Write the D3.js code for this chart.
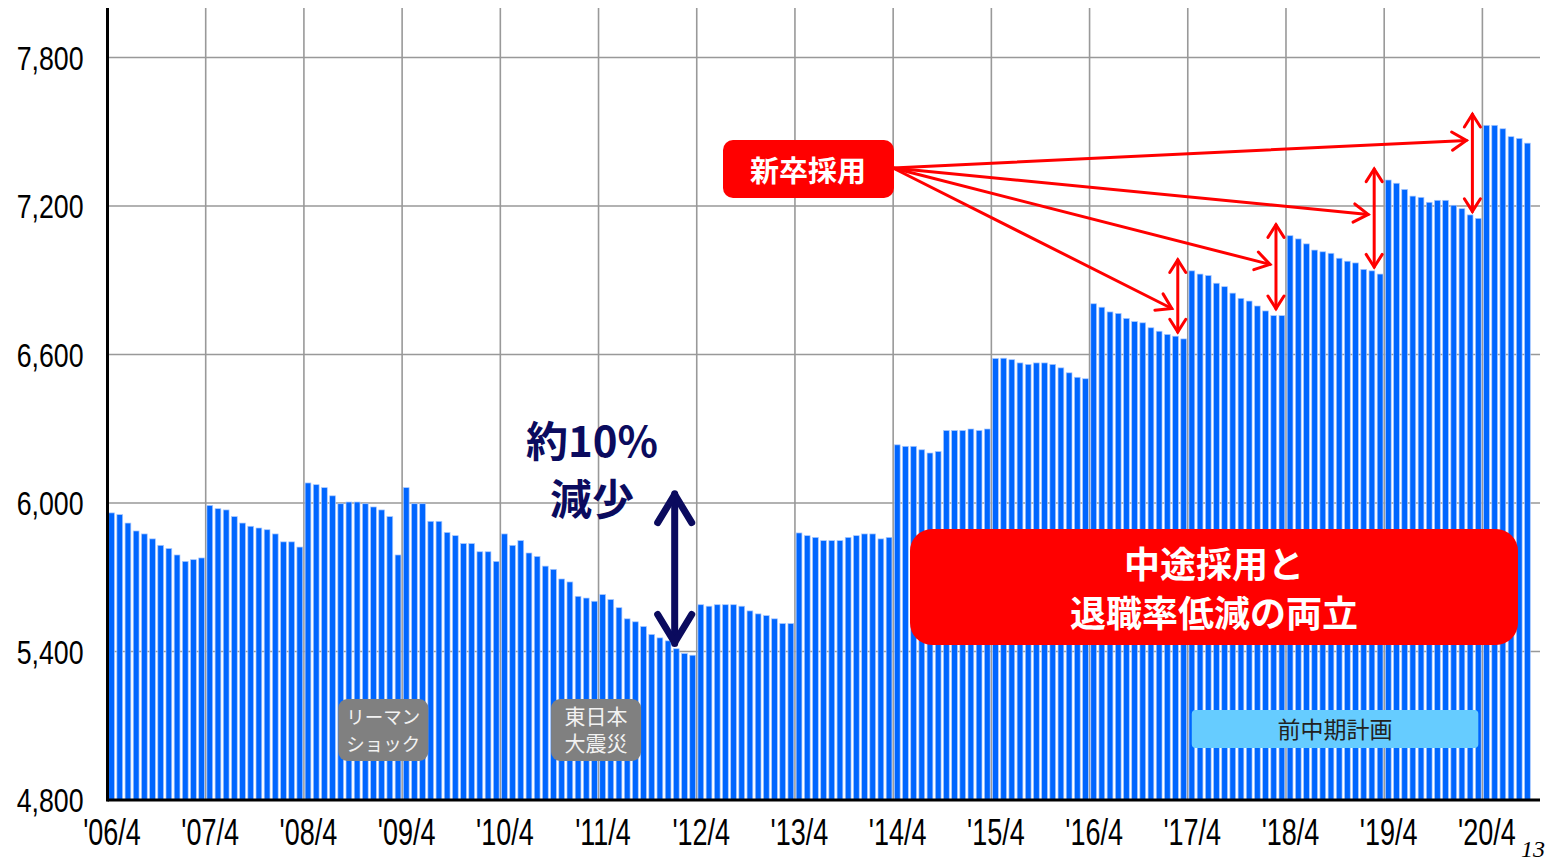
<!DOCTYPE html>
<html lang="ja">
<head>
<meta charset="UTF-8">
<title>社員数推移</title>
<script src="https://d3js.org/d3.v7.min.js"></script>
<style>
  body { margin: 0; background: #fff; }
  .grid line { stroke: #999; stroke-width: 1.6; }
  .bar { fill: #0066ff; stroke: #a9c9ff; stroke-width: 0.7; }
  .axis text { font-family: "Liberation Sans", Arial, sans-serif; fill: #000; }
  .axis path, .axis line { display: none; }
  .jp { font-family: "Noto Sans CJK JP", sans-serif; }
</style>
</head>
<body>
<svg id="chart" width="1547" height="861"></svg>
<script>
// monthly headcount, one array per fiscal year (April .. March)
var fy2006 = [5960, 5953, 5919, 5887, 5875, 5855, 5829, 5816, 5790, 5764, 5771, 5778];
var fy2007 = [5990, 5977, 5972, 5945, 5919, 5906, 5899, 5892, 5875, 5843, 5843, 5822];
var fy2008 = [6081, 6074, 6062, 6029, 5997, 6004, 6004, 5997, 5984, 5972, 5945, 5790];
var fy2009 = [6062, 5997, 5997, 5926, 5926, 5881, 5868, 5836, 5836, 5803, 5803, 5764];
var fy2010 = [5875, 5829, 5848, 5798, 5784, 5745, 5732, 5693, 5681, 5623, 5616, 5603];
var fy2011 = [5630, 5610, 5577, 5532, 5520, 5501, 5469, 5455, 5443, 5411, 5392, 5385];
var fy2012 = [5589, 5583, 5589, 5589, 5589, 5583, 5564, 5552, 5545, 5532, 5513, 5513];
var fy2013 = [5879, 5868, 5861, 5848, 5848, 5848, 5861, 5868, 5875, 5875, 5855, 5861];
var fy2014 = [6235, 6229, 6229, 6215, 6202, 6208, 6293, 6293, 6293, 6299, 6293, 6299];
var fy2015 = [6584, 6585, 6579, 6566, 6560, 6566, 6566, 6560, 6546, 6526, 6508, 6502];
var fy2016 = [6805, 6791, 6772, 6766, 6746, 6733, 6728, 6708, 6694, 6681, 6674, 6663];
var fy2017 = [6938, 6925, 6919, 6888, 6874, 6848, 6827, 6816, 6796, 6776, 6757, 6757];
var fy2018 = [7080, 7067, 7047, 7022, 7015, 7009, 6989, 6977, 6970, 6944, 6938, 6925];
var fy2019 = [7305, 7292, 7267, 7240, 7235, 7215, 7223, 7223, 7203, 7189, 7164, 7150];
var fy2020 = [7526, 7526, 7512, 7480, 7473, 7454];

var xTickLabels = ["'06/4", "'07/4", "'08/4", "'09/4", "'10/4", "'11/4", "'12/4",
                   "'13/4", "'14/4", "'15/4", "'16/4", "'17/4", "'18/4", "'19/4", "'20/4"];
var yTicks = [4800, 5400, 6000, 6600, 7200, 7800];

// April indexes where new graduates join (red double arrows) and where the lines point
var hireMonths = [132, 144, 156, 168];
var hireTargets = [6786, 6964, 7166, 7465];

var values = [].concat(fy2006, fy2007, fy2008, fy2009, fy2010, fy2011, fy2012, fy2013,
                       fy2014, fy2015, fy2016, fy2017, fy2018, fy2019, fy2020);

var svg = d3.select("#chart");
var plotL = 107.5, plotR = 1540, plotT = 8, plotB = 800;

var x = d3.scaleLinear().domain([0, values.length]).range([plotL, 1531.5]);
var y = d3.scaleLinear().domain([4800, 8000]).range([plotB, plotT]);
var step = x(1) - x(0);

svg.append("rect").attr("width", 1547).attr("height", 861).attr("fill", "#fff");

// grid
var grid = svg.append("g").attr("class", "grid");
grid.selectAll(".h").data(yTicks.slice(1)).enter().append("line")
    .attr("x1", plotL).attr("x2", plotR)
    .attr("y1", function(d) { return y(d); }).attr("y2", function(d) { return y(d); });
grid.selectAll(".v").data(d3.range(12, values.length, 12)).enter().append("line")
    .attr("x1", function(d) { return x(d); }).attr("x2", function(d) { return x(d); })
    .attr("y1", plotT).attr("y2", plotB);

// bars
svg.selectAll(".bar").data(values).enter().append("rect")
    .attr("class", "bar")
    .attr("x", function(d, i) { return x(i) + 1.2; })
    .attr("width", step - 2.4)
    .attr("y", function(d) { return y(d); })
    .attr("height", function(d) { return plotB - y(d); });

// axes (narrow look via horizontal squeeze)
var ySq = 0.81, xSq = 0.75;
svg.append("g").attr("class", "axis")
    .attr("transform", "translate(" + plotL + ",0)")
    .call(d3.axisLeft(y).tickValues(yTicks).tickSize(0).tickFormat(d3.format(",")))
    .selectAll("text").attr("font-size", 33).attr("dy", "0.36em")
    .attr("x", -24 / ySq).attr("transform", "scale(" + ySq + ",1)");

svg.append("g").attr("class", "axis")
    .attr("transform", "translate(4," + plotB + ")")
    .call(d3.axisBottom(x).tickValues(d3.range(0, values.length, 12)).tickSize(0).tickPadding(19)
      .tickFormat(function(d, i) { return xTickLabels[i]; }))
    .selectAll("text").attr("font-size", 36).attr("dy", "0.71em")
    .attr("transform", "scale(" + xSq + ",1)");

svg.append("line").attr("x1", plotL).attr("x2", plotL).attr("y1", plotT).attr("y2", plotB + 1.5)
    .attr("stroke", "#000").attr("stroke-width", 3);
svg.append("line").attr("x1", plotL).attr("x2", plotR).attr("y1", plotB).attr("y2", plotB)
    .attr("stroke", "#000").attr("stroke-width", 3);

// two-line label as a single text element
function twoLines(cx, y0, gap, lines) {
  var t = svg.append("text").attr("class", "jp").attr("text-anchor", "middle");
  lines.forEach(function(s, k) {
    t.append("tspan").attr("x", cx).attr("y", y0 + k * gap).text(s);
  });
  return t;
}

// grey event boxes
function greyBox(idx, lines, fs) {
  var cx = x(idx);
  svg.append("rect").attr("x", cx - 45).attr("y", 699).attr("width", 90).attr("height", 62)
     .attr("rx", 9).attr("fill", "#808080");
  twoLines(cx, 724, 27, lines).attr("font-size", fs).attr("fill", "#f2f2f2");
}
greyBox(33.7, ["リーマン", "ショック"], 18.5);
greyBox(59.7, ["東日本", "大震災"], 21);

// plan box
svg.append("rect").attr("x", x(132) + 4).attr("y", 710).attr("width", x(167.5) - x(132) - 4)
   .attr("height", 38).attr("rx", 4).attr("fill", "#66ccff");
svg.append("text").attr("class", "jp").attr("x", (x(132) + x(167.5)) / 2 + 2).attr("y", 738)
   .attr("text-anchor", "middle").attr("font-size", 23).attr("fill", "#222").text("前中期計画");

// 約10%減少
var navy = "#0b0b5e";
twoLines(592, 457, 58, ["約10%", "減少"])
   .attr("font-size", 42).attr("font-weight", "bold").attr("fill", navy);
var ax = x(69) + 2.5, ay1 = y(6050), ay2 = y(5420);
var dbl = svg.append("g").attr("stroke", navy).attr("stroke-width", 7).attr("fill", "none")
   .attr("stroke-linecap", "round").attr("stroke-linejoin", "round");
dbl.append("line").attr("x1", ax).attr("x2", ax).attr("y1", ay1 + 3).attr("y2", ay2 - 3);
dbl.append("polyline").attr("points", [[ax - 17, ay1 + 32], [ax, ay1 + 4], [ax + 17, ay1 + 32]].join(" "));
dbl.append("polyline").attr("points", [[ax - 17, ay2 - 32], [ax, ay2 - 4], [ax + 17, ay2 - 32]].join(" "));

// red annotations
var red = "#ff0000";
var origin = [893, 168];
var ann = svg.append("g").attr("stroke", red).attr("stroke-width", 3).attr("fill", "none")
   .attr("stroke-linecap", "round");
function head(px, py, ang, len) {
  var a1 = ang + Math.PI * 0.82, a2 = ang - Math.PI * 0.82;
  ann.append("polyline").attr("points", [
    [px + len * Math.cos(a1), py + len * Math.sin(a1)], [px, py],
    [px + len * Math.cos(a2), py + len * Math.sin(a2)]].join(" "));
}
hireMonths.forEach(function(m, k) {
  var axx = x(m) - 10;
  var yTop = y(values[m]) - 11, yBot = y(values[m - 1]) - 7;
  ann.append("line").attr("x1", axx).attr("x2", axx).attr("y1", yTop).attr("y2", yBot);
  head(axx, yTop, -Math.PI / 2, 15);
  head(axx, yBot, Math.PI / 2, 15);
  var tx = axx - 6, ty = y(hireTargets[k]);
  ann.append("line").attr("x1", origin[0]).attr("y1", origin[1]).attr("x2", tx).attr("y2", ty);
  head(tx, ty, Math.atan2(ty - origin[1], tx - origin[0]), 17);
});

svg.append("rect").attr("x", 723).attr("y", 140).attr("width", 171).attr("height", 58)
   .attr("rx", 10).attr("fill", red);
svg.append("text").attr("class", "jp").attr("x", 808).attr("y", 182).attr("text-anchor", "middle")
   .attr("font-size", 29).attr("font-weight", "bold").attr("fill", "#fff").text("新卒採用");

svg.append("rect").attr("x", 910).attr("y", 529).attr("width", 608).attr("height", 116)
   .attr("rx", 22).attr("fill", red);
twoLines(1214, 578, 49, ["中途採用と", "退職率低減の両立"])
   .attr("font-size", 36).attr("font-weight", "bold").attr("fill", "#fff");

// page number
svg.append("text").attr("x", 1545).attr("y", 857).attr("text-anchor", "end")
   .attr("font-family", "Liberation Serif, serif").attr("font-style", "italic")
   .attr("font-size", 24).attr("fill", "#000").text("13");
</script>
</body>
</html>
